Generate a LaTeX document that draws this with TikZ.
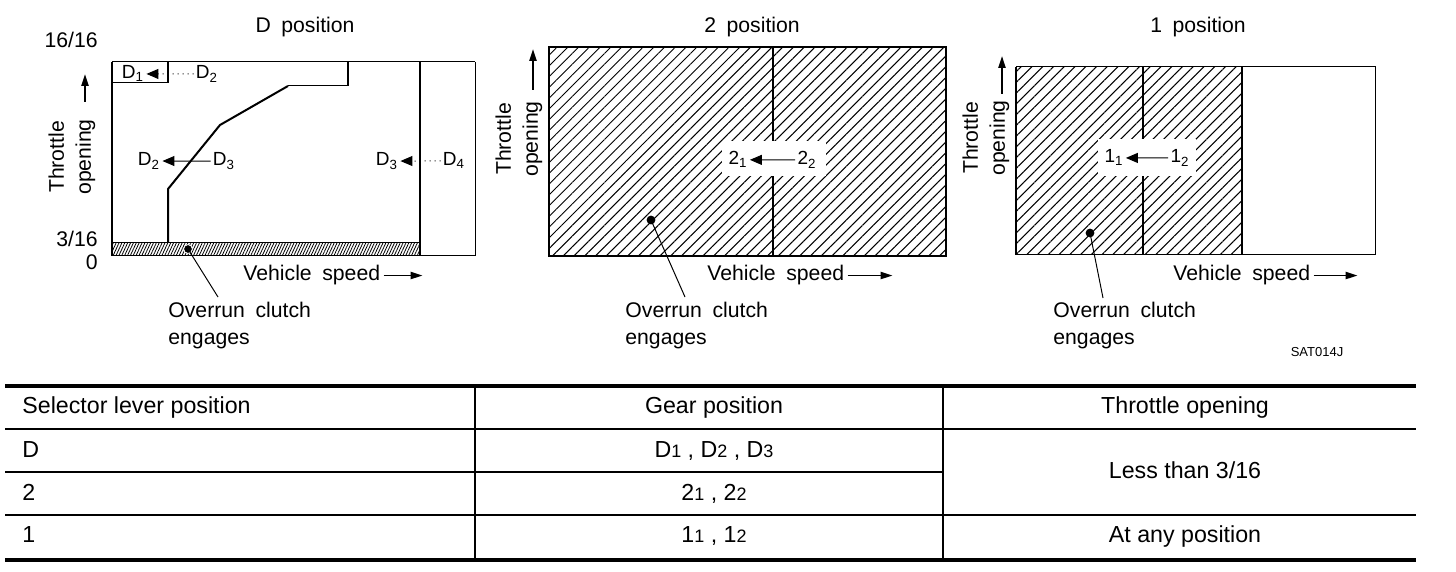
\documentclass[tikz,border=0pt]{standalone}
\usepackage{fontspec}
\setmainfont{Liberation Sans}
\usetikzlibrary{arrows.meta,patterns.meta}

\begin{document}
\begin{tikzpicture}[x=0.5pt, y=-0.5pt,
  lbl/.style={font={\fontsize{10.6}{13.5}\selectfont\spaceskip=0.5em\relax}, inner sep=0pt},
  gearlbl/.style={font=\fontsize{9.5}{11}\selectfont, inner sep=1pt},
  cell/.style={font=\fontsize{11.6}{14}\selectfont, inner sep=0pt},
  shiftarrow/.style={-{Triangle[length=6pt,width=5pt]}, line width=0.5pt},
  axisarrow/.style={-{Triangle[length=6pt,width=3.6pt]}, line width=0.9pt},
  wide hatch/.style={pattern={Lines[angle=45,distance=3.8pt,line width=0.5pt]}},
  band hatch/.style={pattern={Lines[angle=65,distance=1.3pt,line width=0.4pt]}},
  frame/.style={line width=0.9pt},
  thinline/.style={line width=0.5pt},
  rulethick/.style={line width=1.8pt}]
  \path[use as bounding box, fill=white] (0,0) rectangle (1456,572);

  % D position
  \node[lbl, anchor=base] (titleD) at (305,33) {D position};
  \node[lbl, anchor=base east] (fullD) at (98,48) {16/16};
  \node[lbl, anchor=base east] (threeD) at (98,247) {3/16};
  \node[lbl, anchor=base east] (zeroD) at (98,270) {0};
  \fill[band hatch] (112,243) rectangle (420,256);
  \draw[thinline] (112,62) -- (475,62);
  \draw[thinline] (112,243) -- (420,243);
  \draw[thinline] (112,256) -- (475,256);
  \draw[frame] (112,62) -- (112,256);
  \draw[frame] (420,62) -- (420,256);
  \draw[thinline] (475,62) -- (475,256);
  \draw[thinline] (112,83) -- (168,83);
  \draw[frame] (168,62) -- (168,83);
  % shift line D2 <- D3
  \draw[line width=1pt] (168,243) -- (168,189) -- (220,125) -- (288,86);
  \draw[thinline] (288,86) -- (348,86);
  \draw[line width=1.2pt] (348,86) -- (348,62);
  % gear labels
  \node[gearlbl, anchor=base] (dOne) at (133,79) {D\textsubscript{1}};
  \node[gearlbl, anchor=base] (dTwoTop) at (207,79) {D\textsubscript{2}};
  \draw[shiftarrow, dotted] (dTwoTop) -- (dOne);
  \node[gearlbl, anchor=base] (dTwo) at (149,166) {D\textsubscript{2}};
  \node[gearlbl, anchor=base] (dThree) at (224,166) {D\textsubscript{3}};
  \draw[shiftarrow] (dThree) -- (dTwo);
  \node[gearlbl, anchor=base] (dThreeR) at (387,166) {D\textsubscript{3}};
  \node[gearlbl, anchor=base] (dFour) at (454,166) {D\textsubscript{4}};
  \draw[shiftarrow, dotted] (dFour) -- (dThreeR);
  % axes
  \node[lbl, rotate=90, align=center] (thrD) at (72,157) {Throttle\\opening};
  \coordinate (thrTailD) at (85,102);
  \coordinate (thrTipD) at (85,74);
  \draw[axisarrow] (thrTailD) -- (thrTipD);
  \node[lbl, anchor=base west] (vsD) at (243,281) {Vehicle speed};
  \coordinate (vsTipD) at ([xshift=21pt]vsD.east);
  \draw[axisarrow] ([xshift=1.5pt]vsD.east) -- (vsTipD);
  % overrun note
  \coordinate (dotD) at (188,249);
  \filldraw[draw=white, line width=0.4pt] (dotD) circle (2.2pt);
  \node[lbl, anchor=north west, align=left] (noteD) at (168,302) {Overrun clutch\\engages};
  \coordinate (legD) at (218,297);
  \draw[thinline] (dotD) -- (legD);

  % 2 position
  \node[lbl, anchor=base] (titleTwo) at (752,33) {2 position};
  \fill[wide hatch] (549,47) rectangle (946,256);
  \draw[frame] (773,47) -- (773,256);
  \fill[white] (722,141) rectangle (826,176);
  \draw[frame] (549,47) rectangle (946,256);
  \node[gearlbl, anchor=base] (twoOne) at (738,165) {2\textsubscript{1}};
  \node[gearlbl, anchor=base] (twoTwo) at (807,165) {2\textsubscript{2}};
  \draw[shiftarrow] (twoTwo) -- (twoOne);
  \node[lbl, rotate=90, align=center] (thrTwo) at (519,139) {Throttle\\opening};
  \coordinate (thrTailTwo) at (533,90);
  \coordinate (thrTipTwo) at (533,49);
  \draw[axisarrow] (thrTailTwo) -- (thrTipTwo);
  \node[lbl, anchor=base west] (vsTwo) at (707,281) {Vehicle speed};
  \coordinate (vsTipTwo) at ([xshift=24pt]vsTwo.east);
  \draw[axisarrow] ([xshift=1.5pt]vsTwo.east) -- (vsTipTwo);
  \coordinate (dotTwo) at (651,220);
  \fill (dotTwo) circle (2.2pt);
  \node[lbl, anchor=north west, align=left] (noteTwo) at (625,302) {Overrun clutch\\engages};
  \coordinate (legTwo) at (685,297);
  \draw[thinline] (dotTwo) -- (legTwo);

  % 1 position
  \node[lbl, anchor=base] (titleOne) at (1198,33) {1 position};
  \fill[wide hatch] (1016,67) rectangle (1242,255);
  \draw[frame] (1143,67) -- (1143,255);
  \fill[white] (1098,139) rectangle (1196,176);
  \draw[thinline] (1016,67) rectangle (1375,255);
  \draw[frame] (1016,67) -- (1016,255);
  \draw[frame] (1242,67) -- (1242,255);
  \node[gearlbl, anchor=base] (oneOne) at (1114,163) {1\textsubscript{1}};
  \node[gearlbl, anchor=base] (oneTwo) at (1180,163) {1\textsubscript{2}};
  \draw[shiftarrow] (oneTwo) -- (oneOne);
  \node[lbl, rotate=90, align=center] (thrOne) at (986,138) {Throttle\\opening};
  \coordinate (thrTailOne) at (1002,94);
  \coordinate (thrTipOne) at (1002,56);
  \draw[axisarrow] (thrTailOne) -- (thrTipOne);
  \node[lbl, anchor=base west] (vsOne) at (1173,281) {Vehicle speed};
  \coordinate (vsTipOne) at ([xshift=23.5pt]vsOne.east);
  \draw[axisarrow] ([xshift=1.5pt]vsOne.east) -- (vsTipOne);
  \coordinate (dotOne) at (1090,233);
  \fill (dotOne) circle (2.2pt);
  \node[lbl, anchor=north west, align=left] (noteOne) at (1053,302) {Overrun clutch\\engages};
  \coordinate (legOne) at (1103,298);
  \draw[thinline] (dotOne) -- (legOne);
  \node[font=\fontsize{6.5}{8}\selectfont, inner sep=0pt, anchor=base] (figId) at (1317,357) {SAT014J};

  % table rules
  \draw[rulethick] (5,386) -- (1416,386);
  \draw[line width=1pt] (5,429) -- (1416,429);
  \draw[line width=1pt] (5,472) -- (943,472);
  \draw[line width=0.6pt] (5,515) -- (1416,515);
  \draw[rulethick] (5,560) -- (1416,560);
  \draw[line width=0.8pt] (475,386) -- (475,560);
  \draw[line width=0.8pt] (943,386) -- (943,560);
  % table text
  \node[cell, anchor=base west] (hSel) at (22,413) {Selector lever position};
  \node[cell, anchor=base] (hGear) at (714,413) {Gear position};
  \node[cell, anchor=base] (hThr) at (1185,413) {Throttle opening};
  \node[cell, anchor=base west] (selD) at (22,457) {D};
  \node[cell, anchor=base west] (selTwo) at (22,500) {2};
  \node[cell, anchor=base west] (selOne) at (22,542) {1};
  \node[cell, anchor=base] (gearD) at (714,457) {D{\fontsize{9}{10}\selectfont 1} , D{\fontsize{9}{10}\selectfont 2} , D{\fontsize{9}{10}\selectfont 3}};
  \node[cell, anchor=base] (gearTwo) at (714,500) {2{\fontsize{9}{10}\selectfont 1} , 2{\fontsize{9}{10}\selectfont 2}};
  \node[cell, anchor=base] (gearOne) at (714,542) {1{\fontsize{9}{10}\selectfont 1} , 1{\fontsize{9}{10}\selectfont 2}};
  \node[cell, anchor=base] (thrLess) at (1185,478) {Less than 3/16};
  \node[cell, anchor=base] (thrAny) at (1185,542) {At any position};
\end{tikzpicture}
\end{document}
